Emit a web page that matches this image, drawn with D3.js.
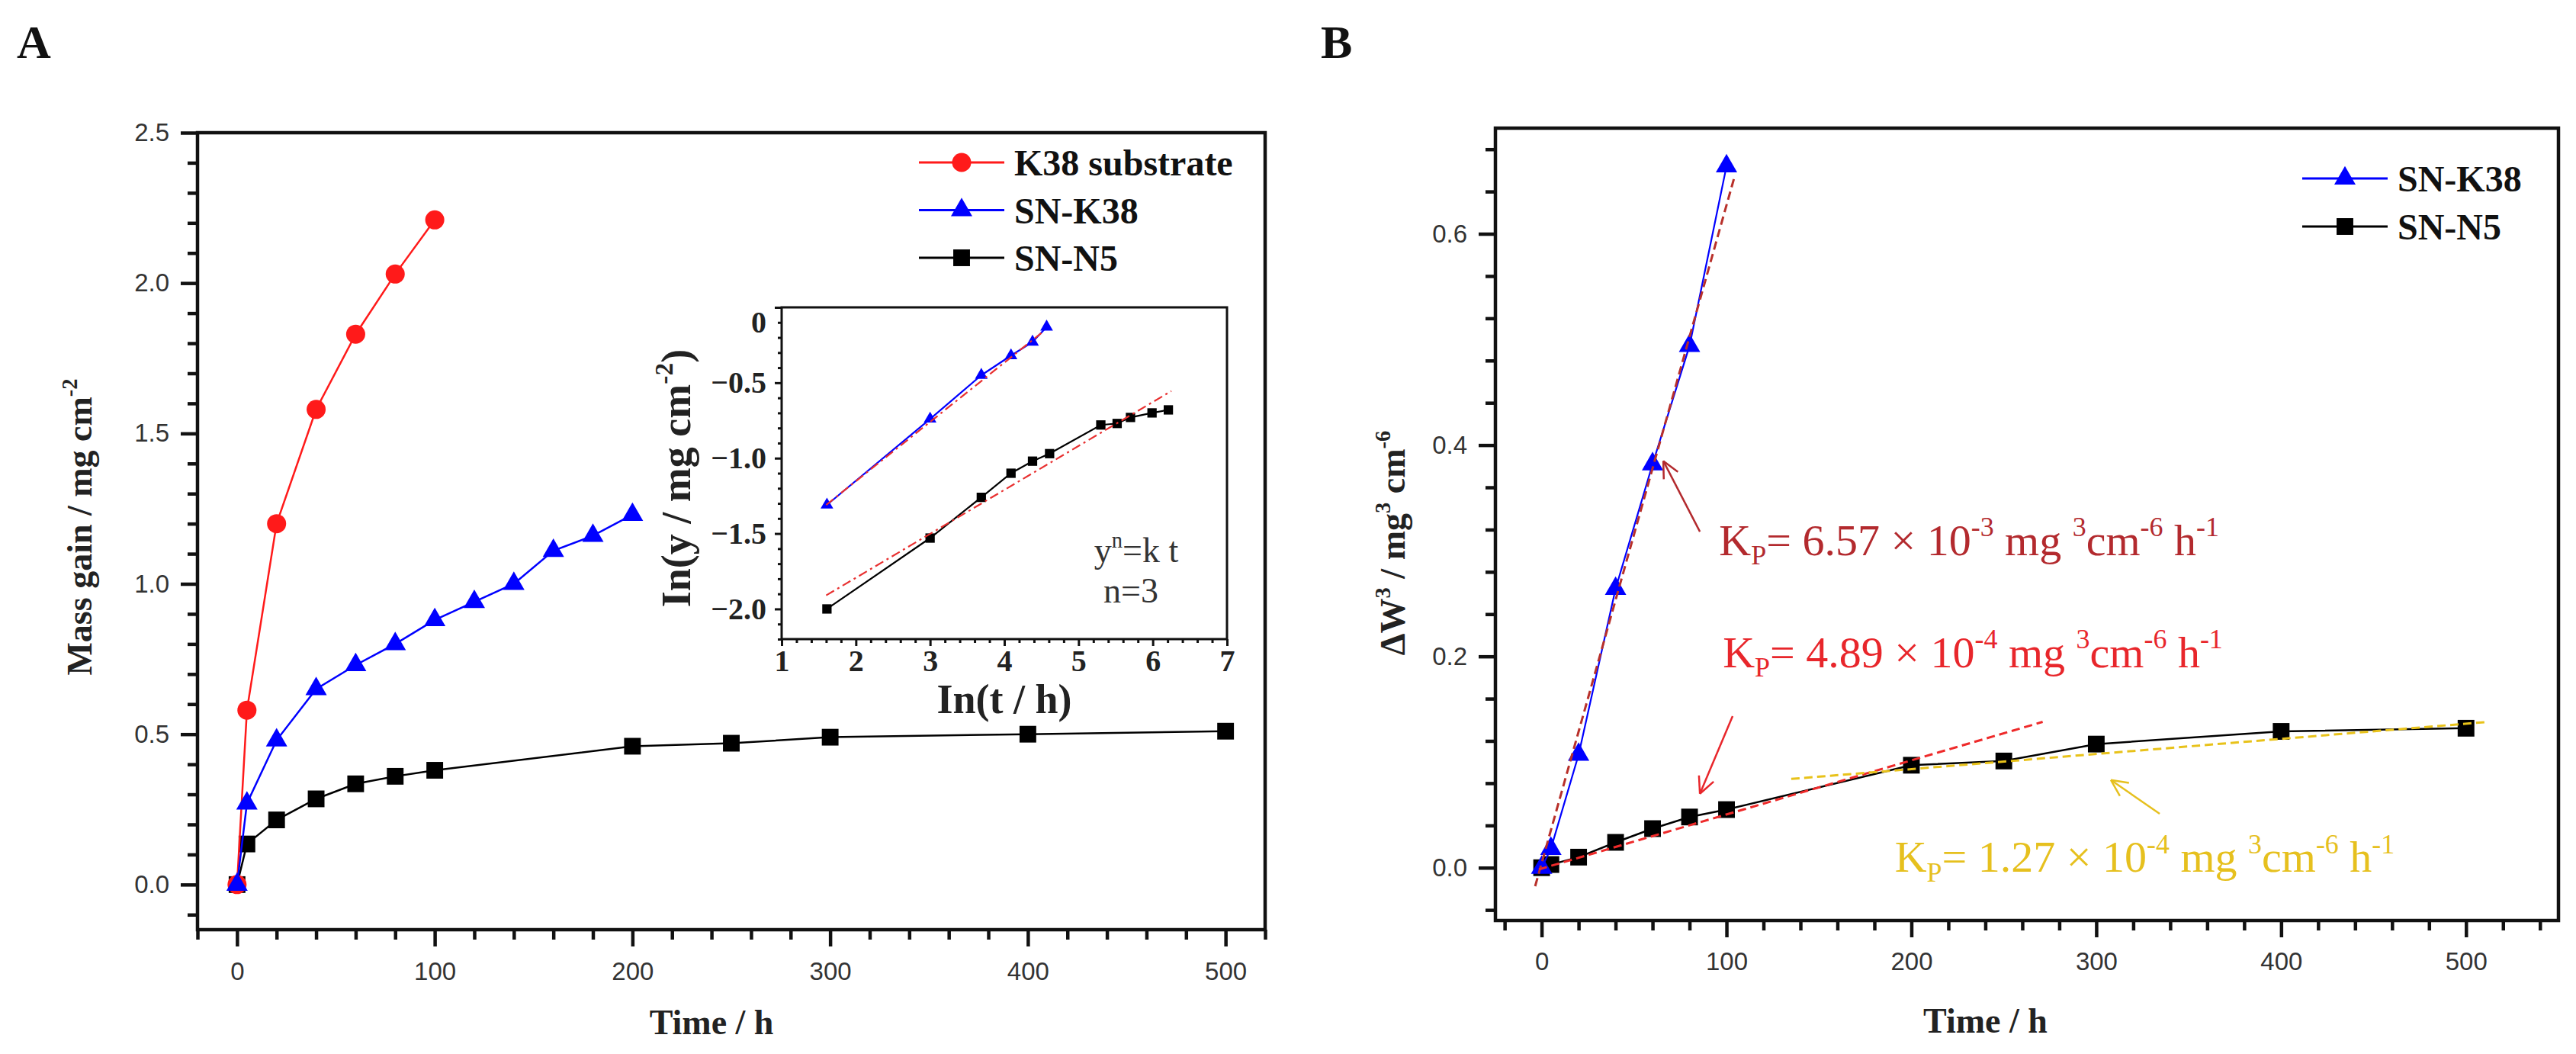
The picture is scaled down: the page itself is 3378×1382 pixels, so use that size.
<!DOCTYPE html>
<html>
<head>
<meta charset="utf-8">
<script src="https://cdn.jsdelivr.net/npm/d3@7"></script>
<style>
  body { margin: 0; background: #fff; }
  svg text { white-space: pre; }
</style>
</head>
<body>
<svg id="chart" width="3378" height="1382"></svg>
<script>
// ---- panel A : mass gain (mg cm-2) vs time (h) ----
const timeK38Sub = [0, 5, 20, 40, 60, 80, 100];
const massK38Sub = [0, 0.58, 1.20, 1.58, 1.83, 2.03, 2.21];
const timeSNK38 = [0, 5, 20, 40, 60, 80, 100, 120, 140, 160, 180, 200];
const massSNK38 = [0, 0.27, 0.48, 0.65, 0.73, 0.80, 0.88, 0.94, 1.00, 1.11, 1.16, 1.23];
const timeSNN5 = [0, 5, 20, 40, 60, 80, 100, 200, 250, 300, 400, 500];
const massSNN5 = [0, 0.135, 0.215, 0.285, 0.335, 0.36, 0.38, 0.46, 0.47, 0.49, 0.50, 0.51];

// ---- inset : ln(y) vs ln(t) ----
const lnTimeSNK38 = [1.61, 3.00, 3.69, 4.09, 4.38, 4.57];
const lnMassSNK38 = [-1.31, -0.74, -0.45, -0.32, -0.23, -0.13];
const lnTimeSNN5 = [1.61, 3.00, 3.69, 4.09, 4.38, 4.61, 5.30, 5.52, 5.70, 5.99, 6.21];
const lnMassSNN5 = [-2.00, -1.53, -1.26, -1.10, -1.02, -0.97, -0.78, -0.77, -0.73, -0.70, -0.68];
const fitLnK38X = [1.6, 4.5];
const fitLnK38Y = [-1.31, -0.17];
const fitLnN5X = [1.6, 6.25];
const fitLnN5Y = [-1.91, -0.555];

// ---- panel B : dW^3 vs time ----
const timeSNK38B = [0, 5, 20, 40, 60, 80, 100];
const cubeSNK38 = [0, 0.018, 0.107, 0.264, 0.382, 0.494, 0.664];
const timeSNN5B = [0, 5, 20, 40, 60, 80, 100, 200, 250, 300, 400, 500];
const cubeSNN5 = [0, 0.003, 0.010, 0.024, 0.037, 0.048, 0.055, 0.097, 0.101, 0.117, 0.129, 0.132];
const fitK38X = [-3.5, 104];
const fitK38Y = [-0.0175, 0.652];
const fitN5X = [-1.5, 271];
const fitN5Y = [-0.0016, 0.138];
const fitLateX = [135, 512];
const fitLateY = [0.084, 0.138];

// rate constant labels
const kpValues = ['6.57', '4.89', '1.27'];
const kpExponents = ['-3', '-4', '-4'];
const kpColors = ['#b32a2e', '#e8262b', '#e6c01e'];
const kpTextX = [96, 98, 191];
const kpTextY = [0.296, 0.19, -0.004];
const arrowTailX = [85.6, 103.3, 334.3];
const arrowTailY = [0.318, 0.1435, 0.051];
const arrowHeadX = [65.8, 85.6, 307.9];
const arrowHeadY = [0.385, 0.070, 0.083];

// tick labels
const ticksTime = [0, 100, 200, 300, 400, 500];
const ticksMassA = [0, 0.5, 1.0, 1.5, 2.0, 2.5];
const ticksCubeB = [0, 0.2, 0.4, 0.6];
const ticksLnT = [1, 2, 3, 4, 5, 6, 7];
const ticksLnY = [-2.0, -1.5, -1.0, -0.5, 0];

const serif = '"Liberation Serif", "Times New Roman", serif';
const sans = '"Liberation Sans", Arial, sans-serif';

const svg = d3.select('#chart');
const zip = (xs, ys) => xs.map((x, i) => [x, ys[i]]);

// scales
const xA = d3.scaleLinear().domain([-20, 520]).range([259, 1659]);
const yA = d3.scaleLinear().domain([-0.15, 2.5]).range([1219, 174]);
const xI = d3.scaleLinear().domain([1, 7]).range([1025, 1609]);
const yI = d3.scaleLinear().domain([-2.2, 0]).range([838, 403]);
const xB = d3.scaleLinear().domain([-25, 550]).range([1961, 3355]);
const yB = d3.scaleLinear().domain([-0.05, 0.70]).range([1207, 168]);

// draws left+bottom axes with major/minor ticks and a frame
function frame(x, y, opt) {
    const g = svg.append('g');
    const [x0, x1] = x.range();
    const [y0, y1] = y.range();

    const minorX = g.append('g').attr('transform', `translate(0,${y0})`)
        .call(d3.axisBottom(x).tickValues(opt.minorX).tickSize(opt.minorLen).tickFormat(''));
    const minorY = g.append('g').attr('transform', `translate(${x0},0)`)
        .call(d3.axisLeft(y).tickValues(opt.minorY).tickSize(opt.minorLen).tickFormat(''));
    const majorX = g.append('g').attr('transform', `translate(0,${y0})`)
        .call(d3.axisBottom(x).tickValues(opt.majorX).tickSize(opt.majorLen)
            .tickPadding(opt.padX).tickFormat(opt.fmtX));
    const majorY = g.append('g').attr('transform', `translate(${x0},0)`)
        .call(d3.axisLeft(y).tickValues(opt.majorY).tickSize(opt.majorLen)
            .tickPadding(opt.padY).tickFormat(opt.fmtY));

    g.selectAll('.domain').remove();
    g.selectAll('.tick line').attr('stroke', '#111').attr('stroke-width', opt.stroke);
    g.selectAll('.tick text')
        .attr('font-family', opt.font)
        .attr('font-weight', opt.weight)
        .attr('font-size', opt.size)
        .attr('fill', opt.color);

    g.append('rect')
        .attr('x', x0).attr('y', y1)
        .attr('width', x1 - x0).attr('height', y0 - y1)
        .attr('fill', 'none').attr('stroke', '#111').attr('stroke-width', opt.stroke);
    return { majorX, majorY };
}

function series(x, y, xs, ys, color, width, symbol, size) {
    const pts = zip(xs, ys);
    svg.append('path')
        .datum(pts)
        .attr('fill', 'none')
        .attr('stroke', color)
        .attr('stroke-width', width)
        .attr('d', d3.line().x(d => x(d[0])).y(d => y(d[1])));
    svg.append('g').selectAll('path')
        .data(pts)
        .enter()
        .append('path')
        .attr('transform', d => `translate(${x(d[0])},${y(d[1])})`)
        .attr('d', d3.symbol(symbol, size))
        .attr('fill', color);
}

function fitLine(x, y, xs, ys, color, width, dash) {
    svg.append('path')
        .datum(zip(xs, ys))
        .attr('fill', 'none')
        .attr('stroke', color)
        .attr('stroke-width', width)
        .attr('stroke-dasharray', dash)
        .attr('d', d3.line().x(d => x(d[0])).y(d => y(d[1])));
}

// text with sub/superscript parts
function richText(sel, parts, size) {
    let offset = 0;
    parts.forEach(p => {
        const target = p.sup ? -0.42 * size : p.sub ? 0.22 * size : 0;
        sel.append('tspan')
            .attr('dy', target - offset)
            .attr('font-size', p.sup || p.sub ? size * 0.62 : size)
            .text(p.t);
        offset = target;
    });
}

function legend(x0, y0, step, items) {
    items.forEach((it, i) => {
        const yy = y0 + i * step;
        svg.append('line')
            .attr('x1', x0).attr('x2', x0 + 112)
            .attr('y1', yy).attr('y2', yy)
            .attr('stroke', it.color).attr('stroke-width', 3);
        svg.append('path')
            .attr('transform', `translate(${x0 + 56},${yy})`)
            .attr('d', d3.symbol(it.symbol, it.size))
            .attr('fill', it.color);
        svg.append('text')
            .attr('x', x0 + 125).attr('y', yy + 17)
            .attr('font-family', serif).attr('font-weight', 'bold')
            .attr('font-size', 48).attr('fill', '#111')
            .text(it.name);
    });
}

const circle = d3.symbolCircle, tri = d3.symbolTriangle, sq = d3.symbolSquare;
const triSize = 340, sqSize = 480, circSize = Math.PI * 12.5 * 12.5;

// ================= panel A =================
frame(xA, yA, {
    majorX: ticksTime, minorX: d3.range(-20, 521, 20).filter(v => v % 100 !== 0),
    majorY: ticksMassA, minorY: d3.range(-1, 25).map(v => v / 10).filter(v => Math.round(v * 10) % 5 !== 0),
    majorLen: 22, minorLen: 13, padX: 21, padY: 15, stroke: 4.5,
    fmtX: d3.format('d'), fmtY: d3.format('.1f'),
    font: sans, weight: 'normal', size: 33, color: '#333'
});

series(xA, yA, timeSNN5, massSNN5, '#000', 2.5, sq, sqSize);
series(xA, yA, timeK38Sub, massK38Sub, '#ff1a1a', 2.5, circle, circSize);
series(xA, yA, timeSNK38, massSNK38, '#0000ff', 2.5, tri, triSize);

legend(1205, 213, 62.5, [
    { name: 'K38 substrate', color: '#ff1a1a', symbol: circle, size: circSize },
    { name: 'SN-K38', color: '#0000ff', symbol: tri, size: triSize },
    { name: 'SN-N5', color: '#000', symbol: sq, size: sqSize }
]);

svg.append('text')
    .attr('x', xA(240)).attr('y', 1356)
    .attr('text-anchor', 'middle')
    .attr('font-family', serif).attr('font-weight', 'bold')
    .attr('font-size', 46).attr('fill', '#222')
    .text('Time / h');

richText(svg.append('text')
    .attr('transform', 'translate(120,691) rotate(-90)')
    .attr('text-anchor', 'middle')
    .attr('font-family', serif).attr('font-weight', 'bold').attr('fill', '#222'),
    [{ t: 'Mass gain / mg cm' }, { t: '-2', sup: true }], 46);

svg.append('text')
    .attr('x', 22).attr('y', 76)
    .attr('font-family', serif).attr('font-weight', 'bold')
    .attr('font-size', 62).attr('fill', '#111')
    .text('A');

// ---- inset ----
const inset = frame(xI, yI, {
    majorX: ticksLnT, minorX: d3.range(10, 71, 2).map(v => v / 10).filter(v => Math.round(v * 10) % 10 !== 0),
    majorY: ticksLnY, minorY: d3.range(-22, 1).map(v => v / 10).filter(v => Math.round(v * 10) % 5 !== 0),
    majorLen: 9, minorLen: 5, padX: 5, padY: 11, stroke: 3,
    fmtX: d3.format('d'), fmtY: v => (v === 0 ? '0' : d3.format('.1f')(v)),
    font: serif, weight: 'bold', size: 40, color: '#222'
});
inset.majorY.selectAll('.tick text').filter(d => d === 0).attr('dy', '0.82em');

series(xI, yI, lnTimeSNN5, lnMassSNN5, '#000', 2.2, sq, 150);
series(xI, yI, lnTimeSNK38, lnMassSNK38, '#0000ff', 2.2, tri, 120);
fitLine(xI, yI, fitLnK38X, fitLnK38Y, '#e83030', 2.2, '12,5,3,5');
fitLine(xI, yI, fitLnN5X, fitLnN5Y, '#e83030', 2.2, '12,5,3,5');

svg.append('text')
    .attr('x', xI(4)).attr('y', 935)
    .attr('text-anchor', 'middle')
    .attr('font-family', serif).attr('font-weight', 'bold')
    .attr('font-size', 54).attr('fill', '#222')
    .text('In(t / h)');

richText(svg.append('text')
    .attr('transform', 'translate(905,627) rotate(-90)')
    .attr('text-anchor', 'middle')
    .attr('font-family', serif).attr('font-weight', 'bold').attr('fill', '#222'),
    [{ t: 'In(y / mg cm' }, { t: '-2', sup: true }, { t: ')' }], 54);

richText(svg.append('text')
    .attr('x', 1490).attr('y', 737)
    .attr('text-anchor', 'middle')
    .attr('font-family', serif).attr('fill', '#333'),
    [{ t: 'y' }, { t: 'n', sup: true }, { t: '=k t' }], 46);

svg.append('text')
    .attr('x', 1483).attr('y', 790)
    .attr('text-anchor', 'middle')
    .attr('font-family', serif).attr('font-size', 46).attr('fill', '#333')
    .text('n=3');

// ================= panel B =================
frame(xB, yB, {
    majorX: ticksTime, minorX: d3.range(-20, 541, 20).filter(v => v % 100 !== 0),
    majorY: ticksCubeB, minorY: d3.range(-1, 18).map(v => v * 0.04).filter(v => Math.round(v * 100) % 20 !== 0),
    majorLen: 22, minorLen: 13, padX: 20, padY: 15, stroke: 4.5,
    fmtX: d3.format('d'), fmtY: d3.format('.1f'),
    font: sans, weight: 'normal', size: 33, color: '#333'
});

series(xB, yB, timeSNN5B, cubeSNN5, '#000', 2.5, sq, sqSize);
series(xB, yB, timeSNK38B, cubeSNK38, '#0000ff', 2.2, tri, triSize);
fitLine(xB, yB, fitK38X, fitK38Y, '#b8302a', 3, '11,6');
fitLine(xB, yB, fitN5X, fitN5Y, '#ee2a2a', 3, '11,6');
fitLine(xB, yB, fitLateX, fitLateY, '#e8c21a', 3, '11,6');

legend(3019, 234, 63, [
    { name: 'SN-K38', color: '#0000ff', symbol: tri, size: triSize },
    { name: 'SN-N5', color: '#000', symbol: sq, size: sqSize }
]);

// rate constant annotations with arrows
kpValues.forEach((v, i) => {
    const tx = xB(arrowTailX[i]), ty = yB(arrowTailY[i]);
    const hx = xB(arrowHeadX[i]), hy = yB(arrowHeadY[i]);
    const ang = Math.atan2(ty - hy, tx - hx);
    const g = svg.append('g').attr('stroke', kpColors[i]).attr('stroke-width', 2.5).attr('fill', 'none');
    g.append('line').attr('x1', tx).attr('y1', ty).attr('x2', hx).attr('y2', hy);
    [-0.45, 0.45].forEach(a => {
        g.append('line')
            .attr('x1', hx).attr('y1', hy)
            .attr('x2', hx + 24 * Math.cos(ang + a))
            .attr('y2', hy + 24 * Math.sin(ang + a));
    });

    richText(svg.append('text')
        .attr('x', xB(kpTextX[i])).attr('y', yB(kpTextY[i]))
        .attr('font-family', serif).attr('fill', kpColors[i]),
        [{ t: 'K' }, { t: 'P', sub: true }, { t: '= ' + v + ' \u00d7 10' },
         { t: kpExponents[i], sup: true }, { t: ' mg ' }, { t: '3', sup: true },
         { t: 'cm' }, { t: '-6', sup: true }, { t: ' h' }, { t: '-1', sup: true }], 58);
});

svg.append('text')
    .attr('x', xB(240)).attr('y', 1354)
    .attr('text-anchor', 'middle')
    .attr('font-family', serif).attr('font-weight', 'bold')
    .attr('font-size', 46).attr('fill', '#222')
    .text('Time / h');

richText(svg.append('text')
    .attr('transform', 'translate(1842,712) rotate(-90)')
    .attr('text-anchor', 'middle')
    .attr('font-family', serif).attr('font-weight', 'bold').attr('fill', '#222'),
    [{ t: '\u0394W' }, { t: '3', sup: true }, { t: ' / mg' }, { t: '3', sup: true },
     { t: ' cm' }, { t: '-6', sup: true }], 46);

svg.append('text')
    .attr('x', 1732).attr('y', 76)
    .attr('font-family', serif).attr('font-weight', 'bold')
    .attr('font-size', 62).attr('fill', '#111')
    .text('B');
</script>
</body>
</html>
